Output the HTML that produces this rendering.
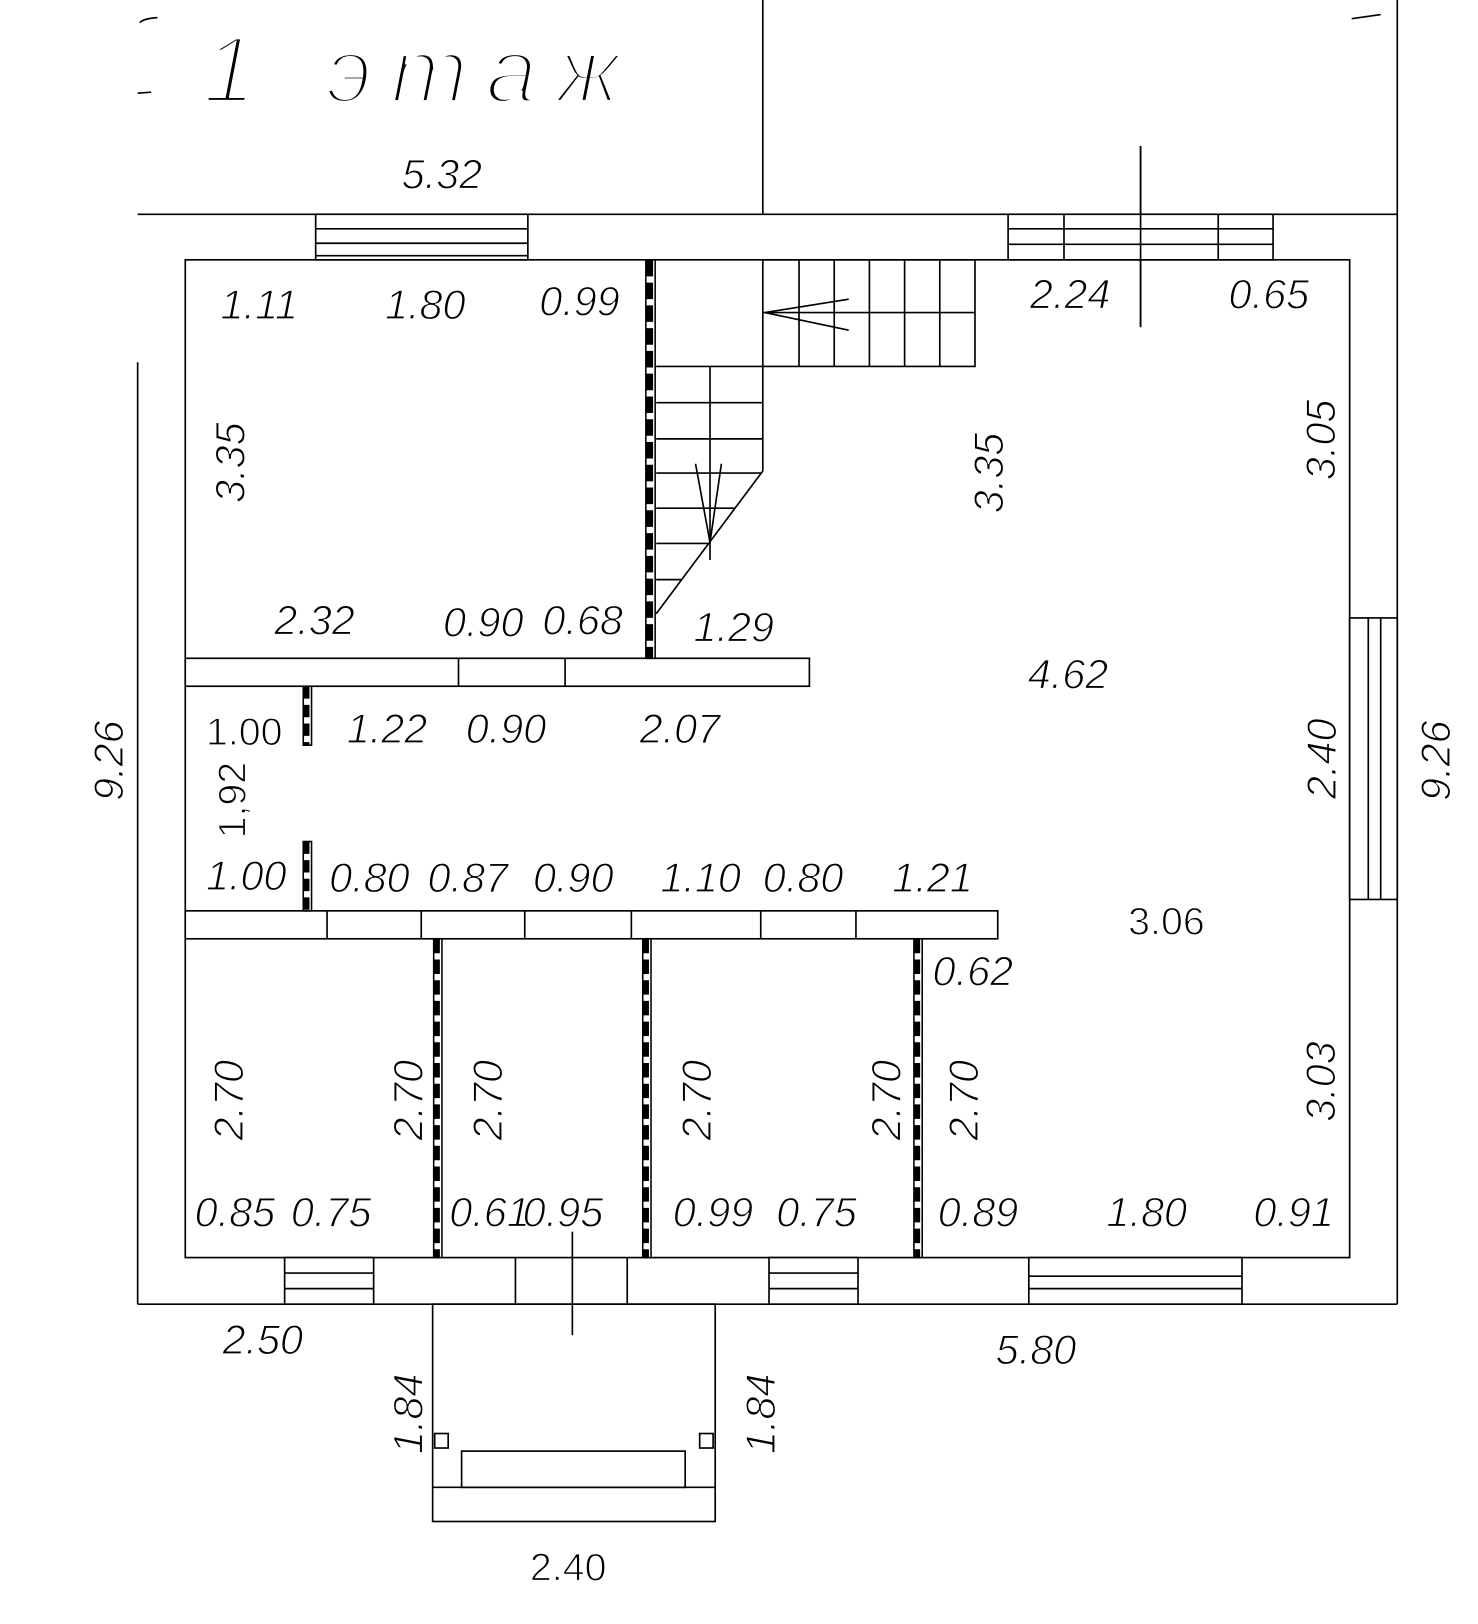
<!DOCTYPE html>
<html><head><meta charset="utf-8"><style>
html,body{margin:0;padding:0;background:#fff;}
svg{display:block}
text{font-family:"Liberation Sans","DejaVu Sans",sans-serif;fill:#000;stroke:#fff;stroke-width:1.1px;}
.i{font-style:italic;font-size:40px;}
.u{font-size:38px;}
</style></head><body>
<svg width="1478" height="1624" viewBox="0 0 1428 1569" xmlns="http://www.w3.org/2000/svg">
<g stroke="#000" stroke-width="1.6" fill="none">
<line x1="133" y1="207" x2="1350" y2="207"/>
<line x1="1350" y1="0" x2="1350" y2="1260"/>
<line x1="133" y1="350" x2="133" y2="1260"/>
<line x1="133" y1="1260" x2="1350" y2="1260"/>
<line x1="737" y1="0" x2="737" y2="207"/>
<line x1="1102" y1="141" x2="1102" y2="316"/>
<path d="M1306 18 L1334 14"/>
<path d="M135 22 Q138 18 152 17"/>
<path d="M133 90 L146 89"/>
<rect x="179" y="251" width="1125" height="964"/>
<rect x="305" y="207" width="205" height="44" fill="#fff"/>
<line x1="305" y1="221" x2="510" y2="221"/><line x1="305" y1="235" x2="510" y2="235"/><line x1="305" y1="247" x2="510" y2="247"/>
<rect x="974" y="207" width="256" height="44" fill="#fff"/>
<line x1="974" y1="221" x2="1230" y2="221"/><line x1="974" y1="236" x2="1230" y2="236"/>
<line x1="1028" y1="207" x2="1028" y2="251"/><line x1="1177" y1="207" x2="1177" y2="251"/>
<line x1="1102" y1="141" x2="1102" y2="316"/>
<rect x="1304" y="597" width="46" height="272" fill="#fff"/>
<line x1="1322" y1="597" x2="1322" y2="869"/><line x1="1334" y1="597" x2="1334" y2="869"/>
<rect x="275" y="1215" width="86" height="45" fill="#fff"/>
<line x1="275" y1="1230" x2="361" y2="1230"/><line x1="275" y1="1245" x2="361" y2="1245"/>
<rect x="743" y="1215" width="86" height="45" fill="#fff"/>
<line x1="743" y1="1230" x2="829" y2="1230"/><line x1="743" y1="1245" x2="829" y2="1245"/>
<rect x="994" y="1215" width="206" height="45" fill="#fff"/>
<line x1="994" y1="1233" x2="1200" y2="1233"/><line x1="994" y1="1245" x2="1200" y2="1245"/>
<line x1="498" y1="1215" x2="498" y2="1260"/><line x1="606" y1="1215" x2="606" y2="1260"/>
<rect x="418" y="1260" width="273" height="210"/>
<line x1="418" y1="1437" x2="691" y2="1437"/>
<rect x="446" y="1402" width="216" height="35"/>
<rect x="420" y="1385" width="13" height="14"/><rect x="676" y="1385" width="13" height="14"/>
<line x1="553" y1="1190" x2="553" y2="1290"/>
<rect x="179" y="636" width="603" height="27" fill="#fff"/>
<line x1="443" y1="636" x2="443" y2="663"/><line x1="546" y1="636" x2="546" y2="663"/>
<rect x="179" y="880" width="785" height="27" fill="#fff"/>
<line x1="316" y1="880" x2="316" y2="907"/><line x1="407" y1="880" x2="407" y2="907"/>
<line x1="507" y1="880" x2="507" y2="907"/><line x1="610" y1="880" x2="610" y2="907"/>
<line x1="735" y1="880" x2="735" y2="907"/><line x1="827" y1="880" x2="827" y2="907"/>
<rect x="737" y="251" width="205" height="103"/>
<line x1="737" y1="302" x2="942" y2="302"/>
<line x1="772" y1="251" x2="772" y2="354"/><line x1="806" y1="251" x2="806" y2="354"/>
<line x1="840" y1="251" x2="840" y2="354"/><line x1="874" y1="251" x2="874" y2="354"/>
<line x1="908" y1="251" x2="908" y2="354"/>
<path d="M820 289 L739 302 L820 319"/>
<path d="M634 354 L737 354 L737 455 L634 593"/>
<line x1="686" y1="354" x2="686" y2="541"/>
<line x1="634" y1="389" x2="737" y2="389"/><line x1="634" y1="424" x2="737" y2="424"/>
<line x1="634" y1="457" x2="735" y2="457"/><line x1="634" y1="491" x2="710" y2="491"/>
<line x1="634" y1="525" x2="685" y2="525"/><line x1="634" y1="560" x2="659" y2="560"/>
<path d="M672 448 L686 524 L697 448"/>
</g>
<g>
<rect x="624" y="251" width="9" height="385" fill="#fff" stroke="#000" stroke-width="1.5"/>
<line x1="627.5" y1="251" x2="627.5" y2="636" stroke="#000" stroke-width="7" stroke-dasharray="16 6"/>
<rect x="293" y="663" width="8" height="57" fill="#fff" stroke="#000" stroke-width="1.5"/>
<line x1="296" y1="663" x2="296" y2="720" stroke="#000" stroke-width="6" stroke-dasharray="12 6"/>
<rect x="293" y="813" width="8" height="67" fill="#fff" stroke="#000" stroke-width="1.5"/>
<line x1="296" y1="813" x2="296" y2="880" stroke="#000" stroke-width="6" stroke-dasharray="12 6"/>
<rect x="419" y="907" width="8" height="308" fill="#fff" stroke="#000" stroke-width="1.5"/>
<line x1="422" y1="907" x2="422" y2="1215" stroke="#000" stroke-width="6" stroke-dasharray="14 6"/>
<rect x="621" y="907" width="8" height="308" fill="#fff" stroke="#000" stroke-width="1.5"/>
<line x1="624" y1="907" x2="624" y2="1215" stroke="#000" stroke-width="6" stroke-dasharray="14 6"/>
<rect x="883" y="907" width="8" height="308" fill="#fff" stroke="#000" stroke-width="1.5"/>
<line x1="886" y1="907" x2="886" y2="1215" stroke="#000" stroke-width="6" stroke-dasharray="14 6"/>
</g>
<text x="196" y="99" font-size="92" font-style="italic" style="stroke-width:5px">1</text>
<text x="315" y="99" font-size="90" font-style="italic" letter-spacing="18" style="stroke-width:5px">этаж</text>
<g>
<text x="388" y="182" class="i">5.32</text>
<text x="213" y="308" class="i">1.11</text>
<text x="372" y="308" class="i">1.80</text>
<text x="521" y="305" class="i">0.99</text>
<text x="995" y="298" class="i">2.24</text>
<text x="1187" y="298" class="i">0.65</text>
<text x="265" y="613" class="i">2.32</text>
<text x="428" y="615" class="i">0.90</text>
<text x="524" y="613" class="i">0.68</text>
<text x="670" y="620" class="i">1.29</text>
<text x="993" y="665" class="i">4.62</text>
<text x="335" y="718" class="i">1.22</text>
<text x="450" y="718" class="i">0.90</text>
<text x="618" y="718" class="i">2.07</text>
<text x="199" y="860" class="i">1.00</text>
<text x="318" y="862" class="i">0.80</text>
<text x="413" y="862" class="i">0.87</text>
<text x="515" y="862" class="i">0.90</text>
<text x="638" y="862" class="i">1.10</text>
<text x="737" y="862" class="i">0.80</text>
<text x="862" y="862" class="i">1.21</text>
<text x="901" y="952" class="i">0.62</text>
<text x="188" y="1185" class="i">0.85</text>
<text x="281" y="1185" class="i">0.75</text>
<text x="434" y="1185" class="i">0.61</text>
<text x="505" y="1185" class="i">0.95</text>
<text x="650" y="1185" class="i">0.99</text>
<text x="750" y="1185" class="i">0.75</text>
<text x="906" y="1185" class="i">0.89</text>
<text x="1069" y="1185" class="i">1.80</text>
<text x="1211" y="1185" class="i">0.91</text>
<text x="215" y="1308" class="i">2.50</text>
<text x="962" y="1318" class="i">5.80</text>
</g>
<text x="199" y="720" class="u">1.00</text>
<text x="1090" y="903" class="u">3.06</text>
<text x="512" y="1527" class="u">2.40</text>
<g text-anchor="middle">
<text class="i" transform="translate(236,447) rotate(-90)">3.35</text>
<text class="i" transform="translate(969,457) rotate(-90)">3.35</text>
<text class="i" transform="translate(1290,425) rotate(-90)">3.05</text>
<text class="i" transform="translate(1291,733) rotate(-90)">2.40</text>
<text class="i" transform="translate(119,735) rotate(-90)">9.26</text>
<text class="i" transform="translate(1401,735) rotate(-90)">9.26</text>
<text class="i" transform="translate(1290,1045) rotate(-90)">3.03</text>
<text class="i" transform="translate(235,1063) rotate(-90)">2.70</text>
<text class="i" transform="translate(408,1063) rotate(-90)">2.70</text>
<text class="i" transform="translate(485,1063) rotate(-90)">2.70</text>
<text class="i" transform="translate(687,1063) rotate(-90)">2.70</text>
<text class="i" transform="translate(870,1063) rotate(-90)">2.70</text>
<text class="i" transform="translate(945,1063) rotate(-90)">2.70</text>
<text class="i" transform="translate(408,1366) rotate(-90)">1.84</text>
<text class="i" transform="translate(749,1366) rotate(-90)">1.84</text>
</g>
<text class="u" text-anchor="middle" transform="translate(237,773) rotate(-90)">1,92</text>
</svg>
</body></html>
